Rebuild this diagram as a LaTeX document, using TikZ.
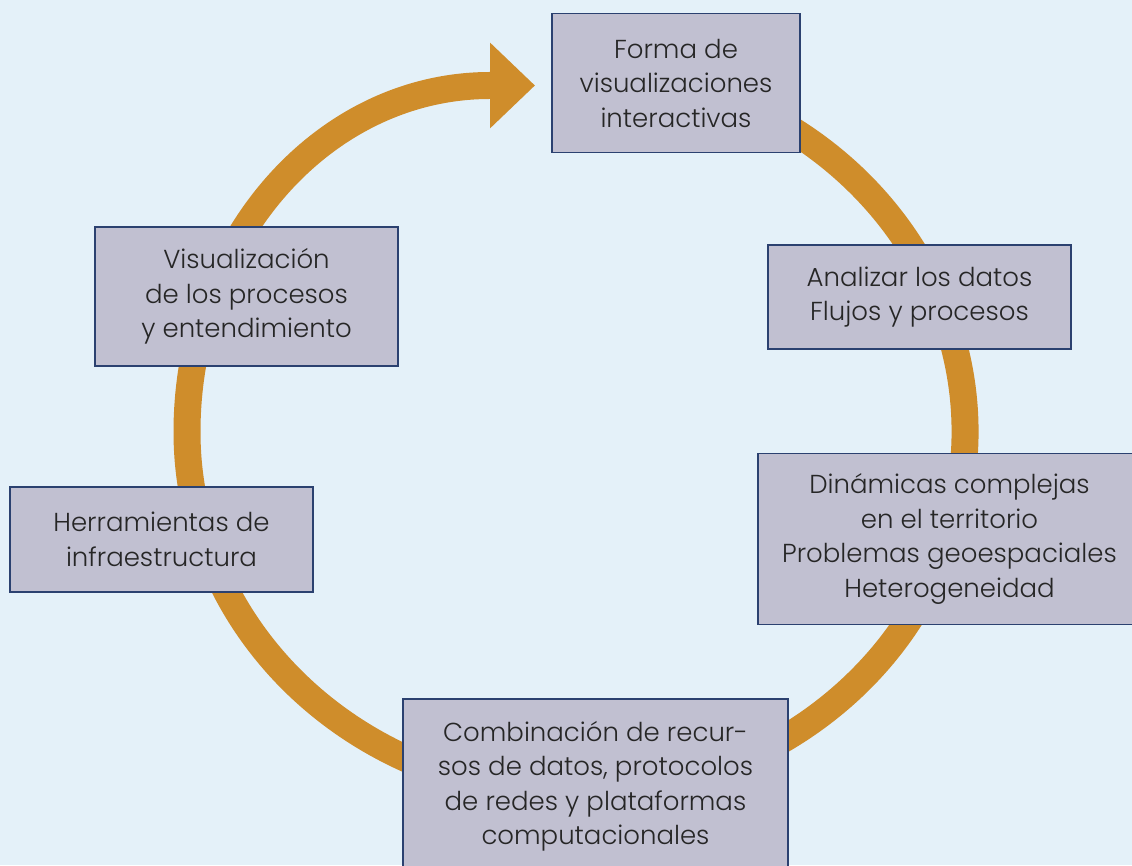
\documentclass[tikz,border=0pt]{standalone}
\usepackage{fontspec}
\IfFontExistsTF{Poppins Light}{\setmainfont{Poppins Light}}{\setmainfont{Poppins}}
\usetikzlibrary{arrows.meta}
\definecolor{bgblue}{HTML}{E4F1F9}
\definecolor{boxgray}{HTML}{C1C0D1}
\definecolor{boxline}{HTML}{2B4170}
\definecolor{ringorange}{HTML}{CF8D2B}
\definecolor{txtgray}{HTML}{262626}
\tikzset{
    stage/.style={draw=boxline, line width=1.5pt, fill=boxgray, align=center, inner sep=0pt,
        text=txtgray, font=\fontsize{26}{34.5}\selectfont},
    ring/.style={draw=ringorange, line width=27pt, -{Triangle[length=45pt,width=83pt]}}
}
\begin{document}
\begin{tikzpicture}[x=1pt,y=1pt]
\clip (0,0) rectangle (1132,865);
\fill[bgblue] (0,0) rectangle (1132,865);
% the cycle
\draw[ring, shift={(576,433)}] (80:389 and 363)
    arc[start angle=80, end angle=-180, x radius=389, y radius=363]
    arc[start angle=180, end angle=90, x radius=303, y radius=346.5] -- ++(45,0);

\node[stage, minimum width=248pt, minimum height=139pt] (forma) at (676,782)
    {Forma de\\visualizaciones\\interactivas};
\node[stage, minimum width=303pt, minimum height=104pt] (analizar) at (919.5,568)
    {Analizar los datos\\Flujos y procesos};
\node[stage, minimum width=383pt, minimum height=171pt] (dinamicas) at (949.5,326)
    {Dinámicas complejas\\en el territorio\\Problemas geoespaciales\\Heterogeneidad};
\node[stage, minimum width=385pt, minimum height=175pt] (combinacion) at (595.5,78.5)
    {Combinación de recur-\\sos de datos, protocolos\\de redes y plataformas\\computacionales};
\node[stage, minimum width=303pt, minimum height=105pt] (herramientas) at (161.5,325.5)
    {Herramientas de\\infraestructura};
\node[stage, minimum width=303pt, minimum height=139pt] (visualizacion) at (246.5,568.5)
    {Visualización\\de los procesos\\y entendimiento};
\end{tikzpicture}
\end{document}
